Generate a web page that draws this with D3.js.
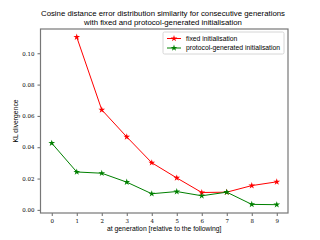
<!DOCTYPE html>
<html>
<head>
<meta charset="utf-8">
<script src="https://cdn.jsdelivr.net/npm/d3@7"></script>
<style>
  body { margin: 0; background: #fff; }
  svg { display: block; }
  .tick text { font-family: "DejaVu Serif", "Liberation Serif", serif; font-size: 5.5px; fill: #000; }
</style>
</head>
<body>
<svg id="chart" width="320" height="240"></svg>
<script>
const generations = [0, 1, 2, 3, 4, 5, 6, 7, 8, 9];
const fixedGen = [1, 2, 3, 4, 5, 6, 7, 8, 9];
const fixedInit = [0.1103, 0.0639, 0.0466, 0.0301, 0.0204, 0.0111, 0.0113, 0.0155, 0.0179];
const protocolInit = [0.0426, 0.0242, 0.0234, 0.0177, 0.0103, 0.0117, 0.0090, 0.0113, 0.0035, 0.0033];
const yTicks = [0, 0.02, 0.04, 0.06, 0.08, 0.10];

const margin = { top: 29, right: 32, bottom: 27, left: 40.5 };
const width = 320 - margin.left - margin.right;
const height = 240 - margin.top - margin.bottom;

const svg = d3.select('#chart');
const g = svg.append('g').attr('transform', 'translate(' + margin.left + ',' + margin.top + ')');

const x = d3.scaleLinear().domain([-0.45, 9.45]).range([0, width]);
const y = d3.scaleLinear().domain([-0.002, 0.1155]).range([height, 0]);

// axes
const xAxis = g.append('g')
  .attr('transform', 'translate(0,' + height + ')')
  .call(d3.axisBottom(x).tickValues(generations).tickFormat(d3.format('d')).tickSize(3).tickPadding(3));
const yAxis = g.append('g')
  .call(d3.axisLeft(y).tickValues(yTicks).tickFormat(d3.format('.2f')).tickSize(3).tickPadding(3));
[xAxis, yAxis].forEach((a) => {
  a.select('.domain').remove();
  a.selectAll('.tick line').attr('stroke', '#000').attr('stroke-width', 0.6);
});

// frame
g.append('rect')
  .attr('x', 0).attr('y', 0).attr('width', width).attr('height', height)
  .attr('fill', 'none').attr('stroke', '#777').attr('stroke-width', 1.2);

const line = d3.line().x((d) => x(d[0])).y((d) => y(d[1]));
const star = d3.symbol().type(d3.symbolStar).size(14);

const series = [
  { name: 'fixed initialisation', color: '#ff0000', pts: fixedGen.map((k, i) => [k, fixedInit[i]]) },
  { name: 'protocol-generated initialisation', color: '#008000', pts: generations.map((k, i) => [k, protocolInit[i]]) }
];

series.forEach((s) => {
  g.append('path')
    .attr('d', line(s.pts))
    .attr('fill', 'none')
    .attr('stroke', s.color)
    .attr('stroke-width', 1);
  g.selectAll(null).data(s.pts).enter().append('path')
    .attr('d', star)
    .attr('transform', (d) => 'translate(' + x(d[0]) + ',' + y(d[1]) + ')')
    .attr('fill', s.color);
});

// legend
const lg = svg.append('g').attr('transform', 'translate(163,32)');
lg.append('rect')
  .attr('width', 121).attr('height', 22).attr('rx', 1.5)
  .attr('fill', '#fff').attr('stroke', '#ccc').attr('stroke-width', 0.8);
series.forEach((s, i) => {
  const yy = 6.5 + i * 9.5;
  lg.append('line').attr('x1', 4).attr('x2', 18).attr('y1', yy).attr('y2', yy)
    .attr('stroke', s.color).attr('stroke-width', 1);
  lg.append('path').attr('d', star).attr('transform', 'translate(11,' + yy + ')').attr('fill', s.color);
  lg.append('text').attr('x', 23).attr('y', yy).attr('dy', '0.35em')
    .attr('font-family', 'Liberation Sans, Arial, sans-serif').attr('font-size', 6.8)
    .text(s.name);
});

// title and labels
const title = svg.append('text')
  .attr('x', 163).attr('y', 16)
  .attr('text-anchor', 'middle')
  .attr('font-family', 'Liberation Sans, Arial, sans-serif').attr('font-size', 7.8);
title.append('tspan').attr('x', 163).attr('dy', 0).text('Cosine distance error distribution similarity for consecutive generations');
title.append('tspan').attr('x', 163).attr('dy', 9.4).text('with fixed and protocol-generated initialisation');

svg.append('text')
  .attr('x', margin.left + width / 2).attr('y', 231)
  .attr('text-anchor', 'middle')
  .attr('font-family', 'Liberation Sans, Arial, sans-serif').attr('font-size', 6.8)
  .text('at generation [relative to the following]');

svg.append('text')
  .attr('transform', 'translate(18,' + (margin.top + height / 2) + ') rotate(-90)')
  .attr('text-anchor', 'middle')
  .attr('font-family', 'Liberation Sans, Arial, sans-serif').attr('font-size', 6.8)
  .text('KL divergence');
</script>
</body>
</html>
